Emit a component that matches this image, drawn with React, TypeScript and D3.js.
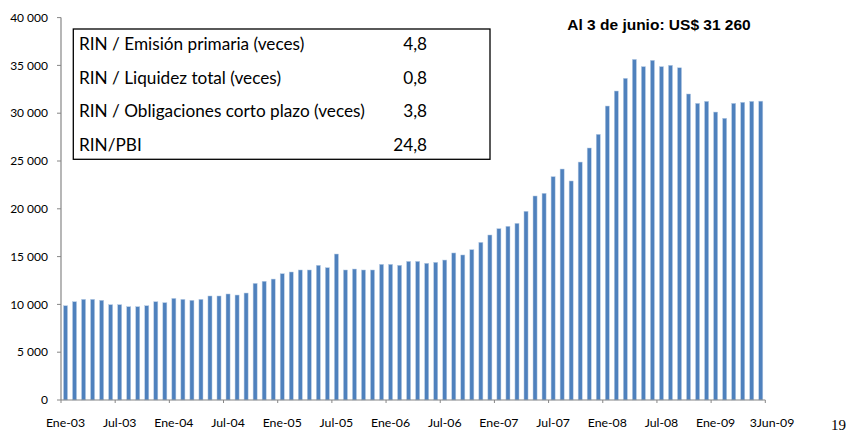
import React from 'react';
import * as d3 from 'd3';

const WIDTH = 850;
const HEIGHT = 434;
const PLOT = { left: 61, right: 765.3, top: 17.6, bottom: 400 };

// monthly RIN, millions of US$, Ene-03 .. May-09, then 3 Jun-09
const RIN_VALUES = [
  9860, 10280, 10530, 10530, 10430, 9970, 9970, 9760, 9760, 9860, 10280, 10180,
  10630, 10530, 10430, 10530, 10880, 10880, 11090, 10980, 11190, 12200, 12420, 12650,
  13210, 13390, 13600, 13600, 14090, 13840, 15270, 13600, 13700, 13600, 13600, 14190,
  14190, 14090, 14500, 14500, 14300, 14400, 14640, 15380, 15170, 15720, 16490, 17260,
  17920, 18170, 18480, 19740, 21340, 21620, 23360, 24160, 22910, 24890, 26360, 27790,
  30750, 32320, 33650, 35630, 34870, 35530, 34870, 35010, 34750, 32010, 31030, 31240,
  30120, 29470, 31030, 31140, 31240, 31260,
];

const X_TICK_LABELS = [
  'Ene-03', 'Jul-03', 'Ene-04', 'Jul-04', 'Ene-05', 'Jul-05', 'Ene-06',
  'Jul-06', 'Ene-07', 'Jul-07', 'Ene-08', 'Jul-08', 'Ene-09',
];
const LAST_LABEL = '3Jun-09';
const Y_TICKS = [0, 5000, 10000, 15000, 20000, 25000, 30000, 35000, 40000];

const TABLE_LABELS = [
  'RIN / Emisión primaria (veces)',
  'RIN / Liquidez total (veces)',
  'RIN / Obligaciones corto plazo (veces)',
  'RIN/PBI',
];
const TABLE_VALUES = ['4,8', '0,8', '3,8', '24,8'];

const TITLE = 'Al 3 de junio: US$ 31 260';
const PAGE_NUMBER = '19';

const BAR_COLOR = '#4F81BD';
const AXIS_COLOR = '#868686';
const LABEL_FONT = 'Lato, "Open Sans", sans-serif';

const fmt = d3.formatLocale({ decimal: ',', thousands: ' ', grouping: [3], currency: ['', ''] }).format(',.0f');

export default function App() {
  const keys = RIN_VALUES.map((_, i) => String(i));
  const x = d3
    .scaleBand<string>()
    .domain(keys)
    .range([PLOT.left, PLOT.right])
    .paddingInner(0.55)
    .paddingOuter(0.275);
  const step = x.step();
  const y = d3.scaleLinear().domain([0, 40000]).range([PLOT.bottom, PLOT.top]);

  // category boundaries every 6 months plus the axis end
  const tickBounds = [...d3.range(0, RIN_VALUES.length, 6), RIN_VALUES.length].map(
    (i) => PLOT.left + i * step
  );

  return (
    <svg
      width={WIDTH}
      height={HEIGHT}
      style={{ position: 'absolute', left: 0, top: 0, background: '#fff' }}
    >
      {RIN_VALUES.map((v, i) => (
        <rect
          key={i}
          x={x(String(i))}
          y={y(v)}
          width={x.bandwidth()}
          height={y(0) - y(v)}
          fill={BAR_COLOR}
          stroke="#B9CDE5"
          strokeWidth={0.5}
        />
      ))}

      {/* y axis */}
      <line x1={PLOT.left} x2={PLOT.left} y1={PLOT.top} y2={PLOT.bottom} stroke={AXIS_COLOR} strokeWidth={1.2} />
      {Y_TICKS.map((t) => (
        <g key={t}>
          <line x1={PLOT.left - 4} x2={PLOT.left} y1={y(t)} y2={y(t)} stroke={AXIS_COLOR} />
          <text
            x={PLOT.left - 13}
            y={y(t)}
            dy="0.35em"
            textAnchor="end"
            fontFamily={LABEL_FONT}
            fontSize={12}
            fill="#000"
          >
            {fmt(t)}
          </text>
        </g>
      ))}

      {/* x axis */}
      <line x1={PLOT.left} x2={PLOT.right} y1={PLOT.bottom} y2={PLOT.bottom} stroke={AXIS_COLOR} strokeWidth={1.2} />
      {tickBounds.map((bx, i) => (
        <line key={i} x1={bx} x2={bx} y1={PLOT.bottom} y2={PLOT.bottom + 3} stroke={AXIS_COLOR} />
      ))}
      {X_TICK_LABELS.map((lab, i) => (
        <text
          key={lab}
          x={(x(String(i * 6)) ?? 0) + x.bandwidth() / 2}
          y={422.5}
          dy="0.35em"
          textAnchor="middle"
          fontFamily={LABEL_FONT}
          fontSize={12.3}
          fill="#000"
        >
          {lab}
        </text>
      ))}
      <text x={772} y={422.5} dy="0.35em" textAnchor="middle" fontFamily={LABEL_FONT} fontSize={12.3} fill="#000">
        {LAST_LABEL}
      </text>

      {/* ratio table */}
      <rect x={73.3} y={29} width={416.7} height={130.3} fill="#fff" stroke="#000" strokeWidth={1.3} />
      {TABLE_LABELS.map((lab, i) => (
        <g key={lab}>
          <text x={79} y={44 + i * 33.7} dy="0.35em" fontFamily={LABEL_FONT} fontSize={17.2} fill="#000">
            {lab}
          </text>
          <text x={427} y={44 + i * 33.7} dy="0.35em" textAnchor="end" fontFamily={LABEL_FONT} fontSize={17.2} fill="#000">
            {TABLE_VALUES[i]}
          </text>
        </g>
      ))}

      <text
        x={659}
        y={25}
        dy="0.35em"
        textAnchor="middle"
        fontFamily='"Liberation Sans", Arial, sans-serif'
        fontWeight="bold"
        fontSize={15.5}
        fill="#000"
      >
        {TITLE}
      </text>

      <text x={838.5} y={430.3} textAnchor="middle" fontFamily='"Liberation Serif", "DejaVu Serif", serif' fontSize={15} fill="#000">
        {PAGE_NUMBER}
      </text>
    </svg>
  );
}
